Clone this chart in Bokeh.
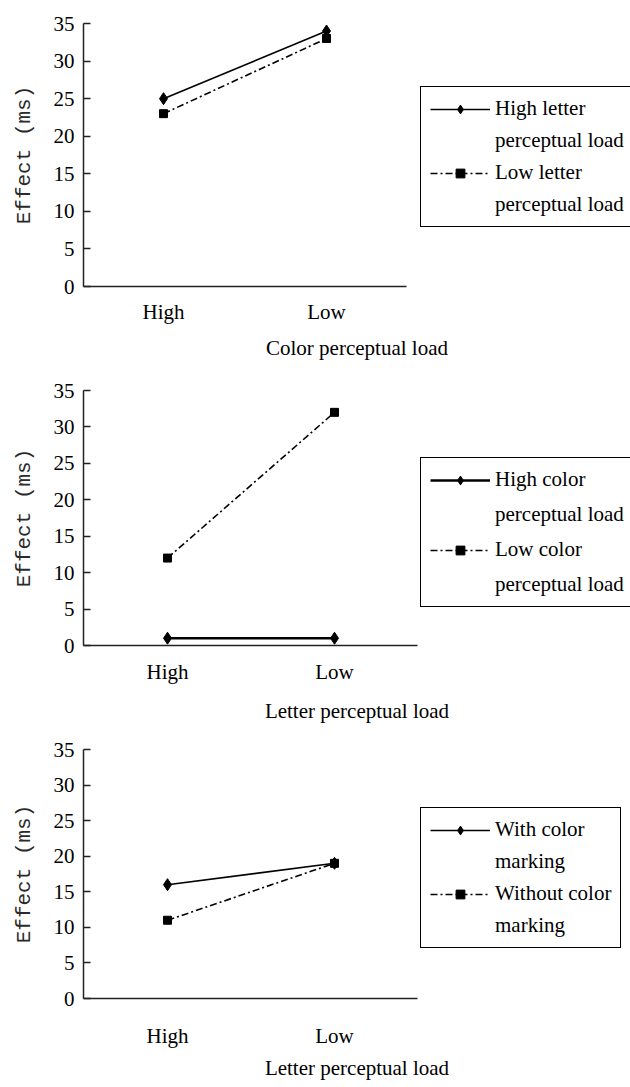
from bokeh.plotting import figure
from bokeh.models import Legend, LegendItem, Range1d, FixedTicker
from bokeh.embed import file_html
from bokeh.resources import INLINE

# ---------------- data ----------------
categories = ["High", "Low"]
y_ticks = [0, 5, 10, 15, 20, 25, 30, 35]
y_label = "Effect (ms)"

p1_high_letter_load = [25, 34]
p1_low_letter_load = [23, 33]
p1_labels = [["High letter", "perceptual load"], ["Low letter", "perceptual load"]]
p1_xlabel = "Color perceptual load"

p2_high_color_load = [1, 1]
p2_low_color_load = [12, 32]
p2_labels = [["High color", "perceptual load"], ["Low color", "perceptual load"]]
p2_xlabel = "Letter perceptual load"

p3_with_marking = [16, 19]
p3_without_marking = [11, 19]
p3_labels = [["With color", "marking"], ["Without color", "marking"]]
p3_xlabel = "Letter perceptual load"

SERIF = "Liberation Serif"
MONO = "Liberation Mono"

FIG_W = 630
FRAME_LEFT = 83


def make_panel(series_a, series_b, labels, xlabel, height, top, bottom,
               x_first, x_step, axis_end, tick_standoff, label_standoff,
               legend_loc, solid_width, legend_spacing):
    frame_w = FIG_W - FRAME_LEFT
    xs = list(range(len(categories)))
    x_start = -(x_first - FRAME_LEFT) / x_step
    x_end = x_start + frame_w / x_step
    p = figure(x_range=Range1d(x_start, x_end),
               y_range=Range1d(0, 35),
               width=FIG_W, height=height,
               min_border_left=FRAME_LEFT, min_border_right=0,
               min_border_top=top, min_border_bottom=bottom,
               output_backend="svg", toolbar_location=None)
    p.outline_line_color = None
    p.grid.visible = False
    p.background_fill_color = "white"
    p.border_fill_color = "white"

    ra_line = p.line(xs, series_a, line_color="black", line_width=solid_width)
    ra_mark = p.scatter(xs, series_a, marker="diamond", size=12,
                        fill_color="black", line_color="black")
    rb_line = p.line(xs, series_b, line_color="black", line_width=1.6,
                     line_dash="7 3 2 3")
    rb_mark = p.scatter(xs, series_b, marker="square", size=8,
                        fill_color="black", line_color="black")

    ya = p.yaxis[0]
    ya.ticker = FixedTicker(ticks=y_ticks)
    ya.major_tick_in = 7
    ya.major_tick_out = 0
    ya.minor_tick_line_color = None
    ya.axis_line_width = 1.5
    ya.axis_line_color = "#222222"
    ya.major_tick_line_color = "#222222"
    ya.major_tick_line_width = 1.5
    ya.major_label_text_font = SERIF
    ya.major_label_text_font_size = "21px"
    ya.major_label_text_color = "black"
    ya.major_label_standoff = 9
    ya.axis_label = y_label
    ya.axis_label_text_font = MONO
    ya.axis_label_text_font_size = "21px"
    ya.axis_label_text_font_style = "normal"
    ya.axis_label_text_color = "#2a2a2a"
    ya.axis_label_standoff = 15

    xa = p.xaxis[0]
    xa.ticker = FixedTicker(ticks=xs)
    xa.major_label_overrides = {i: c for i, c in zip(xs, categories)}
    xa.bounds = (x_start, x_start + (axis_end - FRAME_LEFT) / x_step)
    xa.major_tick_in = 0
    xa.major_tick_out = 0
    xa.minor_tick_line_color = None
    xa.axis_line_width = 1.5
    xa.axis_line_color = "#222222"
    xa.major_label_text_font = SERIF
    xa.major_label_text_font_size = "21px"
    xa.major_label_text_color = "black"
    xa.major_label_standoff = tick_standoff
    xa.axis_label = xlabel
    xa.axis_label_text_font = SERIF
    xa.axis_label_text_font_size = "21px"
    xa.axis_label_text_font_style = "normal"
    xa.axis_label_text_color = "black"
    xa.axis_label_standoff = label_standoff

    items = [LegendItem(label=labels[0][0], renderers=[ra_line, ra_mark]),
             LegendItem(label=labels[0][1], renderers=[]),
             LegendItem(label=labels[1][0], renderers=[rb_line, rb_mark]),
             LegendItem(label=labels[1][1], renderers=[])]
    legend = Legend(items=items, location=legend_loc, margin=0, padding=9,
                    spacing=legend_spacing,
                    glyph_width=60, glyph_height=22, label_standoff=5,
                    label_text_font=SERIF, label_text_font_size="21px",
                    label_text_color="black",
                    border_line_color="black", border_line_width=1.5, border_line_alpha=1.0,
                    background_fill_color="white", background_fill_alpha=1.0)
    p.add_layout(legend, "center")
    return p


p1 = make_panel(p1_high_letter_load, p1_low_letter_load, p1_labels, p1_xlabel,
                height=364, top=23, bottom=78, x_first=163, x_step=163, axis_end=406,
                tick_standoff=13, label_standoff=9, legend_loc=(337, 59), solid_width=1.6,
                legend_spacing=7)
p2 = make_panel(p2_high_color_load, p2_low_color_load, p2_labels, p2_xlabel,
                height=363, top=26, bottom=82, x_first=167, x_step=167, axis_end=417,
                tick_standoff=14, label_standoff=12, legend_loc=(337, 38), solid_width=2.5,
                legend_spacing=10)
p3 = make_panel(p3_with_marking, p3_without_marking, p3_labels, p3_xlabel,
                height=357, top=22, bottom=86, x_first=167, x_step=167, axis_end=417,
                tick_standoff=25, label_standoff=5, legend_loc=(337, 50), solid_width=1.6,
                legend_spacing=7)

open("out.html", "w").write(file_html([p1, p2, p3], INLINE))
